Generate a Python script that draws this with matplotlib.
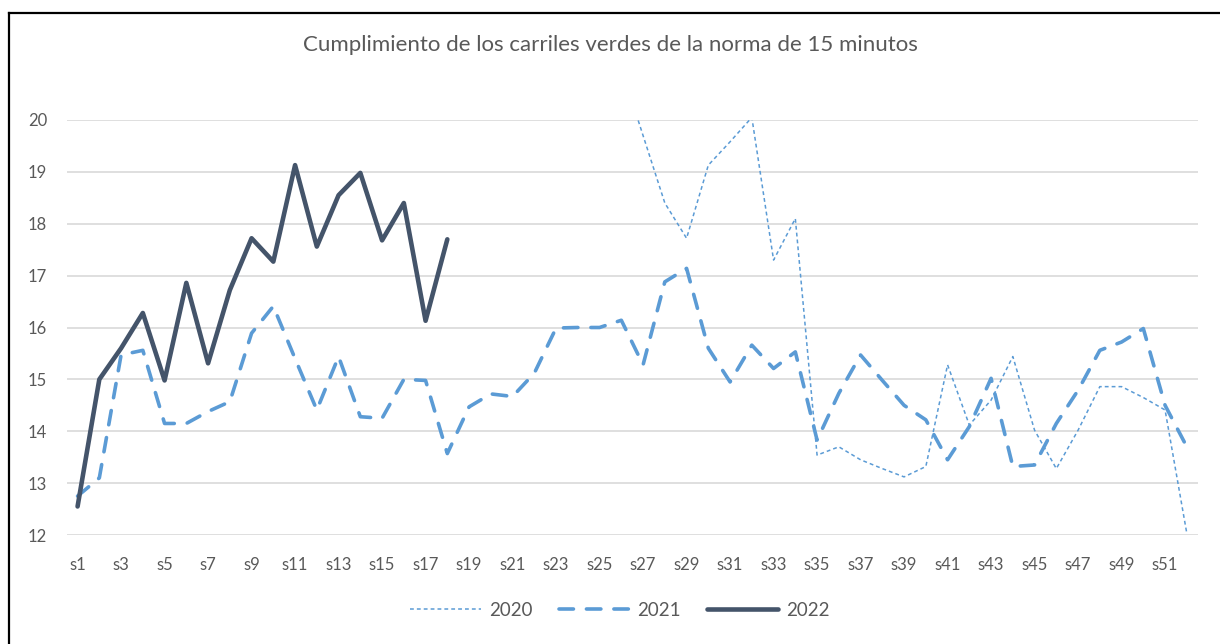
import matplotlib
matplotlib.use("Agg")
import matplotlib.pyplot as plt
from matplotlib.lines import Line2D
import numpy as np

plt.rcParams['font.family'] = ['Lato', 'DejaVu Sans']

title = "Cumplimiento de los carriles verdes de la norma de 15 minutos"
weeks = ["s%d" % i for i in range(1, 53)]

# 2020: visible from s26 on (earlier part above the axis range)
weeks_2020 = weeks[25:]
y2020 = [21.0, 19.7, 18.4, 17.72, 19.13, 19.58, 20.05, 17.3, 18.1, 13.54,
         13.70, 13.45, 13.28, 13.12, 13.32, 15.28, 14.12, 14.6, 15.44, 14.02,
         13.28, 14.02, 14.86, 14.86, 14.65, 14.41, 12.03]
y2021 = [12.75, 13.1, 15.47, 15.56, 14.15, 14.15, 14.38, 14.57, 15.89, 16.41,
         15.4, 14.41, 15.44, 14.28, 14.25, 15.0, 14.98, 13.57, 14.47, 14.72,
         14.67, 15.12, 15.99, 16.0, 16.0, 16.14, 15.28, 16.88, 17.14, 15.6,
         14.95, 15.66, 15.21, 15.53, 13.83, 14.73, 15.47, 14.98, 14.5, 14.22,
         13.45, 14.09, 15.02, 13.32, 13.35, 14.15, 14.79, 15.56, 15.72, 15.98,
         14.5, 13.7]
weeks_2022 = weeks[:18]
y2022 = [12.55, 15.0, 15.6, 16.28, 14.98, 16.86, 15.31, 16.72, 17.72, 17.27,
         19.13, 17.56, 18.55, 18.98, 17.68, 18.4, 16.13, 17.7]
series_names = ["2020", "2021", "2022"]
yticks = [12, 13, 14, 15, 16, 17, 18, 19, 20]

pos = {w: i for i, w in enumerate(weeks)}

fig = plt.figure(figsize=(12.2, 6.44), dpi=100)
ax = fig.add_axes([66.7 / 1220, 1 - 535 / 644, (1197.7 - 66.7) / 1220, (535 - 120) / 644])

light = "#5B9BD5"
dark = "#44546A"
txt = "#595959"

l20, = ax.plot([pos[w] for w in weeks_2020], y2020, color=light, lw=1.1,
               linestyle=(0, (2.5, 2.0)), label=series_names[0])
l21, = ax.plot([pos[w] for w in weeks], y2021, color=light, lw=2.6,
               linestyle=(0, (4.0, 3.6)), dash_capstyle='round', label=series_names[1])
l22, = ax.plot([pos[w] for w in weeks_2022], y2022, color=dark, lw=3.3,
               solid_joinstyle='round', solid_capstyle='round', label=series_names[2])

ax.set_xlim(-0.5, len(weeks) - 0.5)
ax.set_ylim(12, 20)
ax.set_yticks(yticks)
ax.set_yticklabels([str(t) for t in yticks])
ax.set_xticks(range(0, len(weeks), 2))
ax.set_xticklabels(weeks[::2])
ax.grid(axis='y', color="#D9D9D9", lw=1.2)
ax.set_axisbelow(True)
for s in ax.spines.values():
    s.set_visible(False)
ax.tick_params(axis='both', length=0, colors=txt, labelsize=12)
ax.tick_params(axis='y', pad=14)
ax.tick_params(axis='x', pad=16)

fig.text(0.5, 1 - 45 / 644, title, ha='center', va='center', fontsize=16, color=txt)

leg = fig.legend(handles=[l20, l21, l22], loc='center', bbox_to_anchor=(0.508, 1 - 610 / 644),
                 ncol=3, frameon=False, fontsize=13.5, handlelength=3.8,
                 handletextpad=0.4, columnspacing=1.4)
for t in leg.get_texts():
    t.set_color(txt)

# outer frame (top and left visible)
fig.add_artist(Line2D([9 / 1220, 9 / 1220], [0, 1 - 13 / 644], transform=fig.transFigure,
                      color='black', lw=1.6))
fig.add_artist(Line2D([9 / 1220, 1], [1 - 13 / 644, 1 - 13 / 644], transform=fig.transFigure,
                      color='black', lw=1.6))

fig.savefig("out.png", dpi=100)
